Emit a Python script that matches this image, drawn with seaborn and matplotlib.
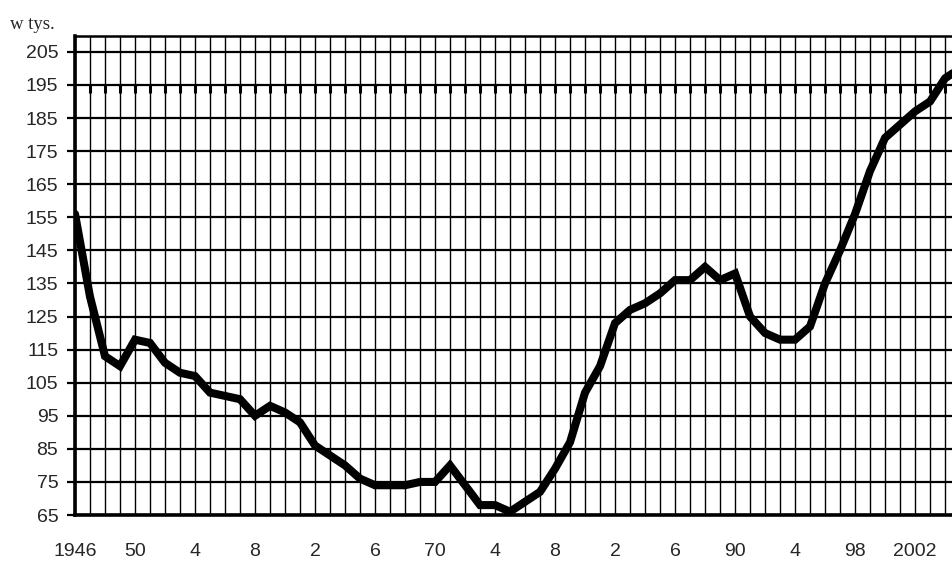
import matplotlib
matplotlib.use("Agg")
import matplotlib.pyplot as plt
import seaborn as sns
import pandas as pd
from matplotlib.ticker import MultipleLocator

# data (values in thousands)
years = list(range(1946, 2006))
values = [156, 131, 113, 110, 118, 117, 111, 108, 107, 102,
          101, 100, 95, 98, 96, 93, 86, 83, 80, 76,
          74, 74, 74, 75, 75, 80, 74, 68, 68, 66,
          69, 72, 79, 87, 102, 110, 123, 127, 129, 132,
          136, 136, 140, 136, 138, 125, 120, 118, 118, 122,
          135, 145, 156, 169, 179, 183, 187, 190, 197, 200]

label_years = list(range(1946, 2003, 4))
label_texts = ["1946", "50", "4", "8", "2", "6", "70", "4", "8", "2",
               "6", "90", "4", "98", "2002"]
y_ticks = list(range(65, 206, 10))

df = pd.DataFrame({"year": years, "value": values})

sns.set_theme(style="white")
plt.rcParams["font.family"] = ["Liberation Sans", "DejaVu Sans"]

fig = plt.figure(figsize=(9.53, 5.62), dpi=100)
ax = fig.add_axes([0.0787, 0.0836, 0.9213, 0.8524])

sns.lineplot(data=df, x="year", y="value", ax=ax, color="black",
             linewidth=5.8, solid_joinstyle="miter", zorder=5)

ax.set_xlim(1946, 2004.53)
ax.set_ylim(65, 209.8)

# every year a thin vertical line, every 4th year a label
ax.set_xticks(label_years)
ax.set_xticklabels(label_texts, fontsize=14)
ax.xaxis.set_minor_locator(MultipleLocator(1))
ax.tick_params(axis="x", which="both", length=0, pad=20.5)
ax.grid(axis="x", which="both", color="black", linewidth=1.0)

ax.set_yticks(y_ticks)
ax.set_yticklabels([str(v) for v in y_ticks], fontsize=14)
ax.tick_params(axis="y", length=6, width=1.6, color="black", pad=6,
               direction="out", left=True)
ax.grid(axis="y", which="major", color="black", linewidth=1.6)

# small stubs hanging under the 195 line, as in the original scan
ax.vlines(years[1:59], 192.6, 195, color="black", linewidth=2.2, zorder=3)

for side in ["left", "bottom"]:
    ax.spines[side].set_linewidth(2.6)
    ax.spines[side].set_color("black")
ax.spines["top"].set_linewidth(1.8)
ax.spines["top"].set_color("black")
ax.spines["right"].set_visible(False)

ax.set_xlabel("")
ax.set_ylabel("")

fig.text(0.010, 0.957, "w tys.", fontsize=13.5,
         family=["Liberation Serif", "DejaVu Serif"], va="center", ha="left")

fig.savefig("out.png", dpi=100)
